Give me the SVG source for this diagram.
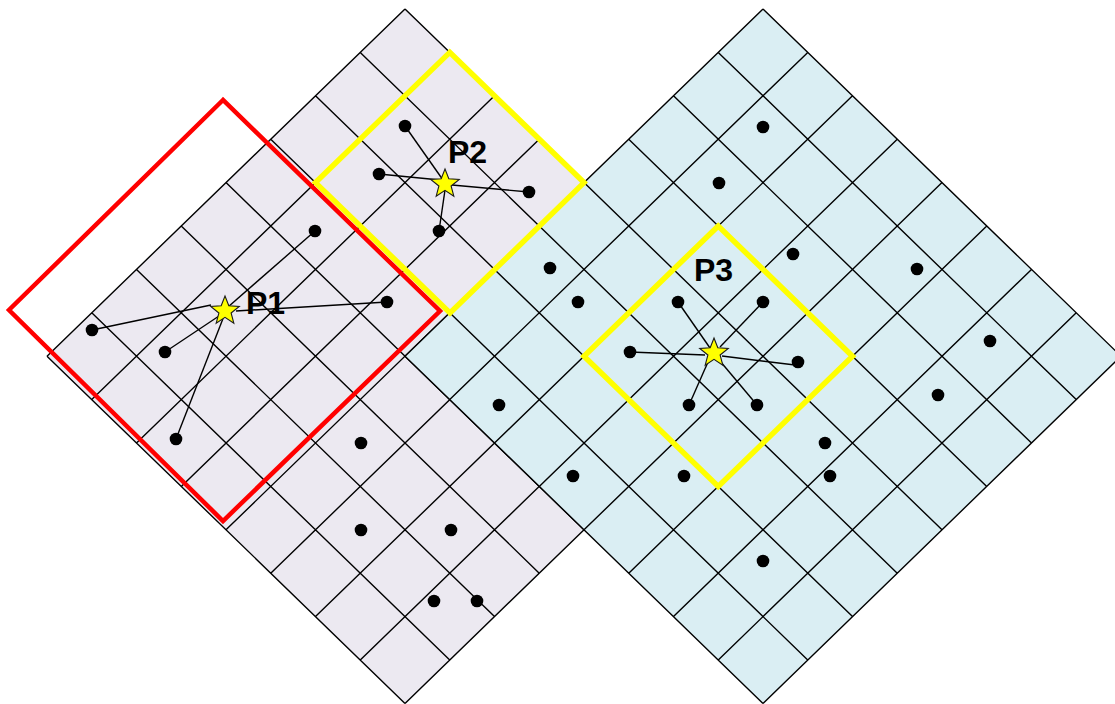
<svg xmlns="http://www.w3.org/2000/svg" xmlns:xlink="http://www.w3.org/1999/xlink" width="1115" height="704" viewBox="0 0 1115 704">
<style>
.grid{stroke:#000;stroke-width:1.4;fill:none;vector-effect:non-scaling-stroke}
.conn{stroke:#000;stroke-width:1.4;fill:none}
.dot{fill:#000}
.star{fill:#FFFF00;stroke:#1a1a1a;stroke-width:1.1}
.lbl{font-family:"Liberation Sans",Arial,sans-serif;font-weight:bold;font-size:32px;fill:#000}
.win{fill:none;stroke-linejoin:miter}
</style>
<defs>
<polygon id="star" class="star" points="0,-15 3.8,-5.2 14.27,-4.64 6.1,2 8.82,12.14 0,6.4 -8.82,12.14 -6.1,2 -14.27,-4.64 -3.8,-5.2"/>
<g id="lattice">
<path class="grid" d="M0 0V8M1 0V8M2 0V8M3 0V8M4 0V8M5 0V8M6 0V8M7 0V8M8 0V8M0 0H8M0 1H8M0 2H8M0 3H8M0 4H8M0 5H8M0 6H8M0 7H8M0 8H8"/>
</g>
</defs>
<g id="grid-left" transform="matrix(44.75 43.4 -44.75 43.4 405 9)">
<rect x="0" y="0" width="8" height="8" fill="#ECE9F1"/>
<use xlink:href="#lattice"/>
</g>
<g id="grid-right" transform="matrix(44.75 43.4 -44.75 43.4 763 9)">
<rect x="0" y="0" width="8" height="8" fill="#DAEEF3"/>
<use xlink:href="#lattice"/>
</g>
<g id="window-P1">
<polygon class="win" points="223,100 9,310 223,521 440,311" stroke="#FF0000" stroke-width="4.5"/>
</g>
<g id="window-P2">
<polygon class="win" points="449.75,52.4 315.5,182.6 450,313 584,182.6" stroke="#FFFF00" stroke-width="5.5"/>
</g>
<g id="window-P3">
<polygon class="win" points="718.25,226 584,356.2 718.25,486.4 852.5,356.2" stroke="#FFFF00" stroke-width="5.5"/>
</g>
<g id="connectors">
<line class="conn" x1="92" y1="330" x2="211" y2="305"/>
<line class="conn" x1="165" y1="352" x2="222" y2="314"/>
<line class="conn" x1="176" y1="439" x2="224" y2="316"/>
<line class="conn" x1="387" y1="302" x2="236" y2="311"/>
<line class="conn" x1="315" y1="231" x2="228" y2="307"/>
<line class="conn" x1="405" y1="126" x2="443" y2="180"/>
<line class="conn" x1="379" y1="174" x2="440" y2="180"/>
<line class="conn" x1="529" y1="192" x2="452" y2="185"/>
<line class="conn" x1="439" y1="231" x2="445" y2="190"/>
<line class="conn" x1="630" y1="352" x2="705" y2="355"/>
<line class="conn" x1="678" y1="302" x2="710" y2="348"/>
<line class="conn" x1="763" y1="302" x2="720" y2="347"/>
<line class="conn" x1="795" y1="365" x2="722" y2="356"/>
<line class="conn" x1="689" y1="405" x2="708" y2="362"/>
<line class="conn" x1="757" y1="405" x2="720" y2="361"/>
</g>
<g id="dots">
<circle class="dot" cx="92" cy="330" r="6.3"/>
<circle class="dot" cx="165" cy="352" r="6.3"/>
<circle class="dot" cx="176" cy="439" r="6.3"/>
<circle class="dot" cx="387" cy="302" r="6.3"/>
<circle class="dot" cx="315" cy="231" r="6.3"/>
<circle class="dot" cx="405" cy="126" r="6.3"/>
<circle class="dot" cx="379" cy="174" r="6.3"/>
<circle class="dot" cx="529" cy="192" r="6.3"/>
<circle class="dot" cx="439" cy="231" r="6.3"/>
<circle class="dot" cx="361" cy="443" r="6.3"/>
<circle class="dot" cx="361" cy="530" r="6.3"/>
<circle class="dot" cx="451" cy="530" r="6.3"/>
<circle class="dot" cx="434" cy="601" r="6.3"/>
<circle class="dot" cx="477" cy="601" r="6.3"/>
<circle class="dot" cx="763" cy="127" r="6.3"/>
<circle class="dot" cx="719" cy="183" r="6.3"/>
<circle class="dot" cx="793" cy="254" r="6.3"/>
<circle class="dot" cx="550" cy="268" r="6.3"/>
<circle class="dot" cx="917" cy="269" r="6.3"/>
<circle class="dot" cx="578" cy="302" r="6.3"/>
<circle class="dot" cx="678" cy="302" r="6.3"/>
<circle class="dot" cx="763" cy="302" r="6.3"/>
<circle class="dot" cx="990" cy="341" r="6.3"/>
<circle class="dot" cx="630" cy="352" r="6.3"/>
<circle class="dot" cx="798" cy="362" r="6.3"/>
<circle class="dot" cx="938" cy="395" r="6.3"/>
<circle class="dot" cx="499" cy="405" r="6.3"/>
<circle class="dot" cx="689" cy="405" r="6.3"/>
<circle class="dot" cx="757" cy="405" r="6.3"/>
<circle class="dot" cx="825" cy="443" r="6.3"/>
<circle class="dot" cx="830" cy="476" r="6.3"/>
<circle class="dot" cx="573" cy="476" r="6.3"/>
<circle class="dot" cx="684" cy="476" r="6.3"/>
<circle class="dot" cx="763" cy="561" r="6.3"/>
</g>
<g id="P1">
<use xlink:href="#star" x="225" y="311"/>
<text class="lbl" x="246" y="314">P1</text>
</g>
<g id="P2">
<use xlink:href="#star" x="445" y="184"/>
<text class="lbl" x="448" y="163">P2</text>
</g>
<g id="P3">
<use xlink:href="#star" x="714" y="353"/>
<text class="lbl" x="694" y="281">P3</text>
</g>
</svg>
